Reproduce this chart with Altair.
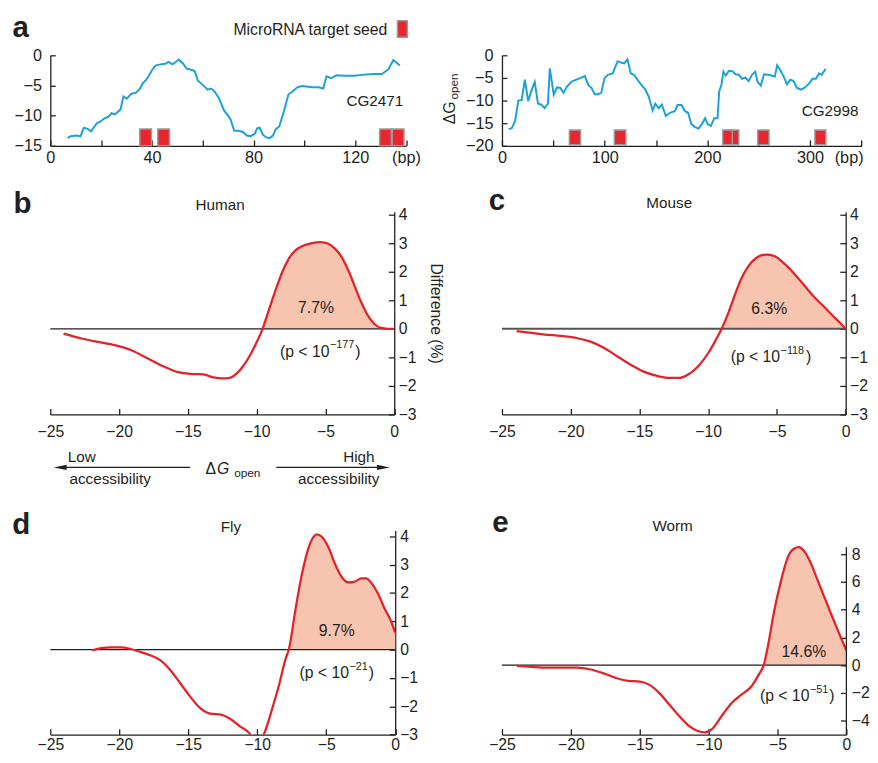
import altair as alt
import pandas as pd

FONT = "Liberation Sans"
TXT = "#231f20"
RED = "#e2232a"
FILL = "#f7c4b0"
BLUE = "#1ba1d9"
SEED_RED = "#e8262e"
SEED_GREY = "#9a9a9a"

# ---------------- panel a : sequence profiles ----------------
cg2471_bp = [6.8, 8.1, 10, 11.9, 13.2, 14.7, 16, 18.3, 19.6, 21.5, 22.8, 24.1, 25.4, 27.6, 28.8,
             30.1, 31.8, 33.7, 35, 36.3, 37.6, 38.8, 40.1, 41.4, 43.3, 45.3, 46.5, 48.1, 49.1, 50.6,
             52.3, 53.6, 55.5, 56.8, 58.1, 60, 61.9, 63.2, 64.5, 66.4, 68.3, 69.6, 70.9, 72.4, 74.1,
             75.8, 77.3, 78.8, 80.5, 81.4, 82.4, 83.7, 85, 86.3, 87.6, 88.8, 90.1, 92, 93.7, 95.3,
             97.2, 99.1, 103, 105.5, 107.4, 108.7, 110.6, 112.6, 115.8, 119.6, 123.5, 127.3, 130.5,
             133.1, 135, 136.3, 137.6]
cg2471_dg = [-13.7, -13.4, -13.3, -13.4, -12.0, -12.2, -12.6, -11.25, -11.0, -10.4, -10.2, -9.6, -9.8, -9.0, -6.8,
             -7.2, -6.4, -6.2, -5.7, -4.7, -4.1, -3.4, -2.4, -1.7, -1.5, -1.4, -1.1, -1.5, -1.2, -0.7,
             -1.4, -2.2, -2.4, -2.6, -4.2, -4.9, -5.7, -5.5, -5.9, -7.1, -9.1, -9.8, -10.6, -12.5, -12.5,
             -12.7, -13.3, -13.4, -13.0, -12.1, -12.0, -13.2, -13.6, -13.75, -13.3, -12.2, -11.8, -9.2, -6.5, -6.0,
             -5.3, -5.1, -5.3, -5.3, -5.5, -3.5, -3.8, -3.3, -3.4, -3.4, -3.2, -3.1, -3.1,
             -2.3, -0.8, -1.25, -1.7]
cg2471_seed_start = [35.2, 42.3, 129.6, 134.6]
cg2471_seed_end = [39.8, 46.9, 134.2, 139.2]

cg2998_bp = [6.4, 9.6, 12.8, 15.9, 19.1, 22.3, 25.5, 28.7, 31.9, 35.1, 38.3, 41.5, 44.7, 46.6, 50.4,
             53.6, 56.8, 60, 63.2, 67.9, 74.3, 80.7, 83.9, 87.1, 90.3, 93.5, 96.7, 99.8, 103, 107.8,
             112.6, 115.8, 119, 122.2, 125.4, 128.5, 133.3, 139.7, 142.9, 146.7, 149.3, 152.5, 155.7, 159.5, 163.6,
             168.4, 171, 174.8, 178, 181.2, 184.4, 187.6, 191.4, 194.6, 197.8, 200.3, 203.5, 206.7, 209.9, 211.5,
             213.7, 215.6, 217.9, 221, 224.2, 227.4, 230.6, 233.8, 237, 240.2, 243.4, 246.6, 248.8, 252, 255.2,
             259.3, 265.7, 267.9, 271.1, 274.3, 277.5, 280.7, 283.9, 287.1, 291.2, 294.4, 299.2, 302.4, 305.6, 308.8,
             311.3, 315.2]
cg2998_dg = [-16.3, -16.1, -14.5, -10.0, -9.9, -5.4, -10.1, -7.8, -5.9, -10.7, -10.9, -11.7, -10.7, -2.9, -8.7,
             -7.1, -7.2, -8.3, -6.9, -5.8, -5.2, -4.6, -6.5, -7.2, -8.6, -8.6, -8.3, -5.1, -4.3, -4.0,
             -1.3, -1.6, -1.8, -0.9, -4.0, -4.3, -5.8, -7.6, -9.1, -12.2, -10.7, -11.7, -10.9, -13.4, -12.7,
             -12.3, -11.0, -11.0, -12.3, -12.7, -15.2, -15.8, -16.2, -15.2, -13.9, -15.2, -15.6, -13.9, -13.9, -8.0,
             -6.5, -3.6, -4.5, -3.4, -3.5, -4.2, -4.3, -5.2, -4.9, -5.7, -4.3, -3.6, -5.8, -6.7, -4.2,
             -4.3, -4.7, -2.2, -3.3, -4.7, -6.4, -5.4, -5.7, -7.2, -7.6, -7.2, -6.2, -5.2, -5.2, -4.0,
             -4.3, -3.0]
cg2998_seed_start = [65.6, 109.4, 220.0, 215.0, 249.0, 304.7]
cg2998_seed_end = [76.5, 120.6, 230.6, 224.2, 260.0, 315.3]

# ---------------- panels b-e : difference curves ----------------
human_x = [-24.04, -22.73, -21.53, -20.33, -19.14, -17.94, -16.75, -15.79, -14.83, -13.88, -13.16, -12.44,
           -11.96, -11.48, -11.0, -10.53, -10.05, -9.57, -9.09, -8.61, -8.13, -7.66, -7.18, -6.70, -5.98,
           -5.38, -4.78, -4.31, -3.83, -3.35, -2.87, -2.39, -1.91, -1.44, -0.96, -0.48, 0]
human_y = [-0.17, -0.34, -0.46, -0.57, -0.74, -1.03, -1.32, -1.51, -1.58, -1.60, -1.70, -1.74,
           -1.72, -1.58, -1.32, -0.97, -0.52, 0, 0.69, 1.37, 2.0, 2.46, 2.75, 2.89, 3.0,
           3.04, 2.98, 2.81, 2.52, 2.06, 1.49, 0.92, 0.46, 0.17, 0.03, 0, 0]

mouse_x = [-23.93, -22.85, -21.9, -20.7, -19.51, -18.56, -17.6, -16.65, -15.7, -14.74, -13.79, -12.83,
           -12.12, -11.4, -10.69, -9.97, -9.49, -9.02, -8.54, -8.06, -7.58, -7.11, -6.51, -5.8, -5.2,
           -4.48, -3.76, -3.05, -2.33, -1.61, -0.9, -0.42, 0]
mouse_y = [-0.08, -0.14, -0.2, -0.25, -0.33, -0.45, -0.66, -0.95, -1.24, -1.49, -1.64, -1.72,
           -1.72, -1.58, -1.29, -0.83, -0.43, 0, 0.55, 1.19, 1.77, 2.17, 2.48, 2.6, 2.55,
           2.29, 1.94, 1.54, 1.13, 0.79, 0.44, 0.21, 0]

fly_x = [-21.95, -21.3, -20.59, -19.87, -19.16, -18.44, -17.72, -17.01, -16.29, -15.58, -14.86, -14.15,
         -13.43, -12.71, -12.0, -11.28, -10.57, -10.1, -9.49, -8.9, -8.42, -7.94, -7.71, -7.23, -6.75,
         -6.27, -5.92, -5.68, -5.32, -4.84, -4.37, -3.89, -3.41, -2.93, -2.46, -2.1, -1.74, -1.26,
         -0.79, -0.31, 0]
fly_y = [-0.03, 0.05, 0.08, 0.08, 0.02, -0.09, -0.21, -0.38, -0.73, -1.19, -1.66, -2.06,
         -2.26, -2.29, -2.43, -2.70, -2.95, -3.3, -2.95, -2.06, -1.25, -0.32, 0, 1.41, 2.69,
         3.61, 3.98, 4.07, 3.98, 3.61, 3.03, 2.57, 2.37, 2.4, 2.51, 2.51, 2.36, 1.99,
         1.47, 1.01, 0.6]

worm_x = [-23.93, -22.86, -21.67, -20.48, -19.52, -18.57, -17.62, -16.67, -15.83, -15.0, -14.29, -13.57,
          -12.86, -12.14, -11.43, -10.83, -10.24, -9.76, -9.05, -8.33, -7.62, -6.9, -6.31, -6.0, -5.71,
          -5.24, -4.76, -4.29, -3.81, -3.45, -3.1, -2.62, -2.14, -1.67, -1.19, -0.71, -0.36, 0]
worm_y = [-0.05, -0.12, -0.17, -0.17, -0.17, -0.31, -0.59, -0.94, -1.13, -1.18, -1.42, -2.01,
          -2.83, -3.66, -4.37, -4.72, -4.84, -4.61, -3.66, -2.72, -2.13, -1.54, -0.59, 0, 1.30,
          3.90, 6.02, 7.68, 8.39, 8.5, 8.27, 7.44, 6.26, 5.08, 3.90, 2.72, 1.89, 1.06]

x_ticks = [-25, -20, -15, -10, -5, 0]
ONE = pd.DataFrame({"k": [0]})
NOVIEW = alt.ViewBackground(stroke="transparent", strokeWidth=0, fill="transparent")


def ax(**kw):
    base = dict(grid=False, domainColor=TXT, domainWidth=1.3, tickColor=TXT, tickWidth=1.3,
                labelColor=TXT, labelFont=FONT, labelFlush=False, labelOverlap=False, title=None)
    base.update(kw)
    return alt.Axis(**base)


def txt(text, x, y, size=16, align="left", baseline="alphabetic", weight="normal",
        style="normal", angle=0, dx=0, dy=0):
    return alt.Chart(ONE).mark_text(text=text, align=align, baseline=baseline, fontSize=size,
                                    fontWeight=weight, fontStyle=style, angle=angle,
                                    dx=dx, dy=dy, color=TXT, font=FONT).encode(x=x, y=y)


def spacer(w, h):
    return alt.Chart(ONE).mark_text(text=" ", opacity=0).encode(
        x=alt.value(0), y=alt.value(0)).properties(width=w, height=h, view=NOVIEW)


# ---------------- panel a, left ----------------
AW1, AH = 361.5, 92
sx_a1 = alt.Scale(domain=[0, 140], nice=False, zero=False)
sy_a1 = alt.Scale(domain=[-15, 0], nice=False, zero=False)
ax_a1x = ax(values=list(range(0, 141, 20)), tickSize={"expr": "-6"}, labelPadding=9.5,
            labelFontSize=16.5,
            labelExpr="datum.value == 140 ? '(bp)' : (datum.value % 40 == 0 ? datum.label : '')")
ax_a1y = ax(values=[-15, -10, -5, 0], tickSize={"expr": "-5"}, labelPadding=14, labelFontSize=16.5)
a1_line = alt.Chart(pd.DataFrame({"bp": cg2471_bp, "dg": cg2471_dg})).mark_line(
    color=BLUE, strokeWidth=2).encode(
    x=alt.X("bp:Q", scale=sx_a1, axis=ax_a1x), y=alt.Y("dg:Q", scale=sy_a1, axis=ax_a1y))
a1_seed = alt.Chart(pd.DataFrame({"s": cg2471_seed_start, "e": cg2471_seed_end})).mark_rect(
    fill=SEED_RED, stroke=SEED_GREY, strokeWidth=1.5).encode(
    x=alt.X("s:Q", scale=sx_a1, axis=ax_a1x), x2="e:Q", y=alt.value(AH), y2=alt.value(AH - 17))
a1 = alt.layer(
    a1_line, a1_seed,
    txt("CG2471", alt.XDatum(138.9, scale=sx_a1, axis=ax_a1x),
        alt.YDatum(-8.43, scale=sy_a1, axis=ax_a1y), size=15.5, align="right"),
    txt("MicroRNA target seed", alt.value(342.5), alt.value(-21), size=16, align="right"),
    alt.Chart(ONE).mark_rect(fill=SEED_RED, stroke=SEED_GREY, strokeWidth=1.5).encode(
        x=alt.value(352.8), x2=alt.value(362.8), y=alt.value(-35), y2=alt.value(-18.3)),
    txt("a", alt.value(-38.5), alt.value(-19), size=30, weight="bold"),
).properties(width=AW1, height=AH, view=NOVIEW)

# ---------------- panel a, right ----------------
AW2 = 365.3
sx_a2 = alt.Scale(domain=[0, 350], nice=False, zero=False)
sy_a2 = alt.Scale(domain=[-20, 0], nice=False, zero=False)
ax_a2x = ax(values=list(range(0, 351, 50)), tickSize={"expr": "-6"}, labelPadding=9.5,
            labelFontSize=16.5,
            labelOffset={"condition": {"test": "datum.value == 350", "value": -13}, "value": 0},
            labelExpr="datum.value == 350 ? '(bp)' : (datum.value % 100 == 0 ? datum.label : '')")
ax_a2y = ax(values=[-20, -15, -10, -5, 0], tickSize={"expr": "-5"}, labelPadding=14,
            labelFontSize=16.5)
a2_line = alt.Chart(pd.DataFrame({"bp": cg2998_bp, "dg": cg2998_dg})).mark_line(
    color=BLUE, strokeWidth=2).encode(
    x=alt.X("bp:Q", scale=sx_a2, axis=ax_a2x), y=alt.Y("dg:Q", scale=sy_a2, axis=ax_a2y))
a2_seed = alt.Chart(pd.DataFrame({"s": cg2998_seed_start, "e": cg2998_seed_end})).mark_rect(
    fill=SEED_RED, stroke=SEED_GREY, strokeWidth=1.5).encode(
    x=alt.X("s:Q", scale=sx_a2, axis=ax_a2x), x2="e:Q", y=alt.value(AH - 1), y2=alt.value(AH - 16))
a2 = alt.layer(
    a2_line, a2_seed,
    txt("CG2998", alt.XDatum(347.1, scale=sx_a2, axis=ax_a2x),
        alt.YDatum(-13.4, scale=sy_a2, axis=ax_a2y), size=15.5, align="right"),
    txt("ΔG", alt.value(-47.7), alt.value(70), size=16, angle=270),
    txt("open", alt.value(-44.7), alt.value(45), size=12, angle=270),
).properties(width=AW2, height=AH, view=NOVIEW)


# ---------------- panels b-e ----------------
def p_value(XD, YD, cx, cy, sup):
    # "(p < 10" + superscript exponent + ")" centred on (cx, cy)
    w1 = 3.141 * 16
    w2 = (0.584 + 0.556 * (len(sup) - 1)) * 11
    w3 = 0.333 * 16
    start = -(w1 + w2 + w3 + 1.5) / 2
    return [
        txt("(p < 10", XD(cx), YD(cy), size=16, align="right", baseline="middle",
            dx=start + w1),
        txt(sup, XD(cx), YD(cy), size=11, align="left", baseline="middle",
            dx=start + w1 + 0.5, dy=-6.5),
        txt(")", XD(cx), YD(cy), size=16, align="left", baseline="middle",
            dx=start + w1 + w2 + 1.5),
    ]


def curve_panel(xs, ys, w, h, ydom, yvals, xpad, ypad, letter, letter_pos, title, title_pos,
                pct, pct_pos, p_sup, p_pos, ytitle=None, zero_color=TXT, zero_width=1.3,
                own_domain=None, extra=None):
    df = pd.DataFrame({"x": xs, "y": ys})
    xscale = alt.Scale(domain=[-25, 0], nice=False, zero=False)
    yscale = alt.Scale(domain=ydom, nice=False, zero=False)
    xaxis = ax(values=x_ticks, tickSize={"expr": "-6"}, labelPadding=xpad, labelFontSize=16)
    ykw = dict(orient="right", values=yvals, tickSize={"expr": "-6"}, labelPadding=ypad,
               labelFontSize=16)
    if ytitle:
        ykw.update(title=ytitle, titleFont=FONT, titleFontSize=16, titleFontWeight="normal",
                   titleColor=TXT, titlePadding=12, titleAngle=90, titleBaseline="bottom")
    if own_domain is not None:
        ykw.update(domain=False)
    yaxis = ax(**ykw)

    def XD(v):
        return alt.XDatum(v, scale=xscale, axis=xaxis)

    def YD(v):
        return alt.YDatum(v, scale=yscale, axis=yaxis)

    area = alt.Chart(df).transform_filter("datum.x >= -10").transform_calculate(
        pos="max(datum.y, 0)").mark_area(color=FILL, interpolate="monotone", opacity=1).encode(
        x=alt.X("x:Q", scale=xscale, axis=xaxis),
        y=alt.Y("pos:Q", scale=yscale, axis=yaxis), y2=alt.Y2Datum(0))
    zero = alt.Chart(ONE).mark_rule(color=zero_color, strokeWidth=zero_width).encode(
        x=XD(-25), x2=alt.X2Datum(0), y=YD(0))
    line = alt.Chart(df).mark_line(color=RED, strokeWidth=2.3, interpolate="monotone",
                                   clip=True).encode(
        x=alt.X("x:Q", scale=xscale, axis=xaxis),
        y=alt.Y("y:Q", scale=yscale, axis=yaxis))
    layers = [area, zero, line,
              txt(pct, XD(pct_pos[0]), YD(pct_pos[1]), size=16, align="center",
                  baseline="middle"),
              txt(title, alt.value(title_pos[0]), alt.value(title_pos[1]), size=15.5,
                  align="center"),
              txt(letter, alt.value(letter_pos[0]), alt.value(letter_pos[1]), size=30,
                  weight="bold")]
    layers += p_value(XD, YD, p_pos[0], p_pos[1], p_sup)
    if own_domain is not None:
        layers.append(alt.Chart(ONE).mark_rule(color=TXT, strokeWidth=1.3).encode(
            x=alt.value(w), y=YD(own_domain[0]), y2=alt.Y2Datum(own_domain[1])))
    if extra is not None:
        layers += extra(XD)
    return layers


def accessibility(XD):
    arrow_y = 259.8
    return [
        alt.Chart(ONE).mark_rule(color=TXT, strokeWidth=1.3).encode(
            x=XD(-24.28), x2=alt.X2Datum(-14.84), y=alt.value(arrow_y)),
        alt.Chart(ONE).mark_rule(color=TXT, strokeWidth=1.3).encode(
            x=XD(-8.58), x2=alt.X2Datum(-0.79), y=alt.value(arrow_y)),
        alt.Chart(ONE).mark_point(shape="M -1 0 L 1 -0.4 L 1 0.4 Z", filled=True, size=169,
                                  color=TXT, opacity=1, strokeWidth=0).encode(
            x=XD(-24.28), y=alt.value(arrow_y)),
        alt.Chart(ONE).mark_point(shape="M 1 0 L -1 -0.4 L -1 0.4 Z", filled=True, size=169,
                                  color=TXT, opacity=1, strokeWidth=0).encode(
            x=XD(-0.79), y=alt.value(arrow_y)),
        txt("Low", alt.value(17.8), alt.value(254.5), size=15.5),
        txt("accessibility", alt.value(19.5), alt.value(276.5), size=15.5),
        txt("High", alt.value(329.5), alt.value(254.5), size=15.5, align="right"),
        txt("accessibility", alt.value(334.5), alt.value(276.5), size=15.5, align="right"),
        txt("Δ", alt.value(157.8), alt.value(266.5), size=16),
        txt("G", alt.value(169.5), alt.value(266.5), size=16, style="italic"),
        txt("open", alt.value(186.8), alt.value(270), size=12),
    ]


BW, BH = 349.5, 206
b = alt.layer(*curve_panel(human_x, human_y, BW, BH, [-3, 4.1], list(range(-3, 5)), 15.5, 10,
                           "b", (-37.5, 1.5), "Human", (172.5, -2), "7.7%", (-5.69, 0.71),
                           "−177", (-5.38, -0.8), ytitle="Difference (%)",
                           extra=accessibility)
              ).properties(width=BW, height=BH, view=NOVIEW)

CW = 349.3
c = alt.layer(*curve_panel(mouse_x, mouse_y, CW, BH, [-3, 4.1], list(range(-3, 5)), 15.5, 10,
                           "c", (-13.4, -1.8), "Mouse", (170, -3.5), "6.3%", (-5.56, 0.69),
                           "−118", (-5.44, -1.0), zero_color="#555", zero_width=2)
              ).properties(width=CW, height=BH, view=NOVIEW)

DW, DH = 350.5, 207.3
d = alt.layer(*curve_panel(fly_x, fly_y, DW, DH, [-3, 4.2], list(range(-3, 5)), 8, 10.5,
                           "d", (-38.8, 3.3), "Fly", (183.5, 1), "9.7%", (-4.24, 0.66),
                           "−21", (-4.24, -0.84))
              ).properties(width=DW, height=DH, view=NOVIEW)

EW = 350
e = alt.layer(*curve_panel(worm_x, worm_y, EW, DH, [-5, 9.7], [-4, -2, 0, 2, 4, 6, 8], 8, 11,
                           "e", (-10, 1.6), "Worm", (173.4, 0), "14.6%", (-3.09, 0.94),
                           "−51", (-3.57, -2.25), own_domain=(-5, 8.5))
              ).properties(width=EW, height=DH, view=NOVIEW)

cells = [
    a1, spacer(88.7, 1), a2,
    spacer(1, 66.5), spacer(1, 1), spacer(1, 1),
    b, spacer(96.7, 1), c,
    spacer(1, 117.4), spacer(1, 1), spacer(1, 1),
    d, spacer(92.3, 1), e,
]

chart = alt.concat(*cells, columns=3, spacing=0, bounds="flush",
                   align={"row": "each", "column": "none"}).properties(
    padding={"left": 4, "top": -1, "right": 0, "bottom": -4}
).configure_view(stroke="transparent", strokeWidth=0).configure(font=FONT, background="white")

chart.save("out.html", embed_options={"renderer": "svg", "actions": False})
